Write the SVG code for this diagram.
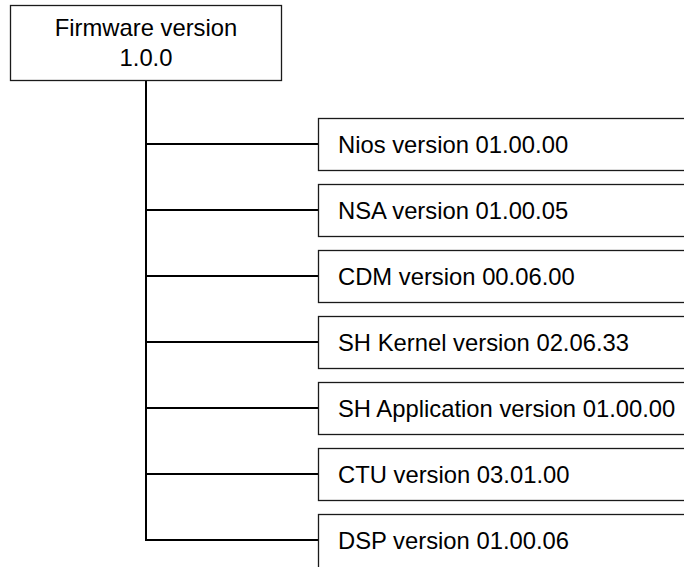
<svg xmlns="http://www.w3.org/2000/svg" width="684" height="567" viewBox="0 0 684 567">
<style>
.box{fill:#fff;stroke:#1a1a1a;stroke-width:1.3}
.t{font-family:"Liberation Sans",Arial,sans-serif;font-size:23.8px;fill:#000}
.c{fill:none;stroke:#000;stroke-width:2}
</style>
<rect width="684" height="567" fill="#fff"/>
<g id="connectors">
<path class="c" d="M146 80 V540 H318"/>
<path class="c" d="M146 144 H318 M146 210 H318 M146 276 H318 M146 342 H318 M146 408 H318 M146 474 H318"/>
</g>
<g id="root">
<rect class="box" x="10.5" y="5.5" width="271" height="75"/>
<text class="t" x="146" y="36" text-anchor="middle">Firmware version</text>
<text class="t" x="146" y="66" text-anchor="middle">1.0.0</text>
</g>
<g id="nios">
<rect class="box" x="318.5" y="118.5" width="400" height="52"/>
<text class="t" x="338" y="152.5">Nios version 01.00.00</text>
</g>
<g id="nsa">
<rect class="box" x="318.5" y="184.5" width="400" height="52"/>
<text class="t" x="338" y="218.5">NSA version 01.00.05</text>
</g>
<g id="cdm">
<rect class="box" x="318.5" y="250.5" width="400" height="52"/>
<text class="t" x="338" y="284.5">CDM version 00.06.00</text>
</g>
<g id="shkernel">
<rect class="box" x="318.5" y="316.5" width="400" height="52"/>
<text class="t" x="338" y="350.5">SH Kernel version 02.06.33</text>
</g>
<g id="shapp">
<rect class="box" x="318.5" y="382.5" width="400" height="52"/>
<text class="t" x="338" y="416.5">SH Application version 01.00.00</text>
</g>
<g id="ctu">
<rect class="box" x="318.5" y="448.5" width="400" height="52"/>
<text class="t" x="338" y="482.5">CTU version 03.01.00</text>
</g>
<g id="dsp">
<rect class="box" x="318.5" y="514.5" width="400" height="60"/>
<text class="t" x="338" y="548.5">DSP version 01.00.06</text>
</g>
</svg>
